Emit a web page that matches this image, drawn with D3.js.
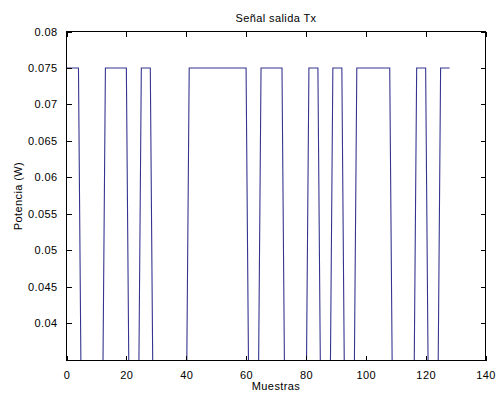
<!DOCTYPE html>
<html>
<head>
<meta charset="utf-8">
<script src="https://cdn.jsdelivr.net/npm/d3@7"></script>
<style>
  html, body { margin: 0; padding: 0; background: #ffffff; }
  svg { display: block; }
  text { font-family: "Liberation Sans", Arial, Helvetica, sans-serif; fill: #000; }
</style>
</head>
<body>
<svg id="chart" width="496" height="394"></svg>
<script>
// Transmitted power per sample (W), samples 0..128
const muestras = d3.range(0, 129);
const potencia = [
  0.075, 0.075, 0.075, 0.075, 0.075, 0.025, 0.025, 0.025, 0.025, 0.025,   // 0-9
  0.025, 0.025, 0.025, 0.075, 0.075, 0.075, 0.075, 0.075, 0.075, 0.075,   // 10-19
  0.075, 0.025, 0.025, 0.025, 0.025, 0.075, 0.075, 0.075, 0.075, 0.025,   // 20-29
  0.025, 0.025, 0.025, 0.025, 0.025, 0.025, 0.025, 0.025, 0.025, 0.025,   // 30-39
  0.025, 0.075, 0.075, 0.075, 0.075, 0.075, 0.075, 0.075, 0.075, 0.075,   // 40-49
  0.075, 0.075, 0.075, 0.075, 0.075, 0.075, 0.075, 0.075, 0.075, 0.075,   // 50-59
  0.075, 0.025, 0.025, 0.025, 0.025, 0.075, 0.075, 0.075, 0.075, 0.075,   // 60-69
  0.075, 0.075, 0.075, 0.025, 0.025, 0.025, 0.025, 0.025, 0.025, 0.025,   // 70-79
  0.025, 0.075, 0.075, 0.075, 0.075, 0.025, 0.025, 0.025, 0.025, 0.075,   // 80-89
  0.075, 0.075, 0.075, 0.025, 0.025, 0.025, 0.025, 0.075, 0.075, 0.075,   // 90-99
  0.075, 0.075, 0.075, 0.075, 0.075, 0.075, 0.075, 0.075, 0.075, 0.025,   // 100-109
  0.025, 0.025, 0.025, 0.025, 0.025, 0.025, 0.025, 0.075, 0.075, 0.075,   // 110-119
  0.075, 0.025, 0.025, 0.025, 0.025, 0.075, 0.075, 0.075, 0.075           // 120-128
];

const xTicks = [0, 20, 40, 60, 80, 100, 120, 140];
const yTicks = [0.04, 0.045, 0.05, 0.055, 0.06, 0.065, 0.07, 0.075, 0.08];
const yTickLabels = ["0.04", "0.045", "0.05", "0.055", "0.06", "0.065", "0.07", "0.075", "0.08"];

const titulo = "Señal salida Tx";
const etiquetaX = "Muestras";
const etiquetaY = "Potencia (W)";

// Plot frame
const plotLeft = 66.5, plotRight = 485.5, plotTop = 31.5, plotBottom = 360.5;
const tickLen = 5;

const svg = d3.select("#chart");

const x = d3.scaleLinear().domain([0, 140]).range([plotLeft, plotRight]);
const y = d3.scaleLinear().domain([0.0349, 0.08]).range([plotBottom, plotTop]);

svg.append("rect").attr("width", 496).attr("height", 394).attr("fill", "#ffffff");

svg.append("defs").append("clipPath").attr("id", "plotClip")
  .append("rect")
  .attr("x", plotLeft).attr("y", plotTop)
  .attr("width", plotRight - plotLeft).attr("height", plotBottom - plotTop);

// Signal line
const line = d3.line()
  .x((d, i) => x(muestras[i]))
  .y(d => y(d));

svg.append("path")
  .datum(potencia)
  .attr("clip-path", "url(#plotClip)")
  .attr("d", line)
  .attr("fill", "none")
  .attr("stroke", "#35358f")
  .attr("stroke-width", 1.1)
  .attr("stroke-linejoin", "miter");

// Axes: bottom / left carry labels, top / right only ticks (boxed axes)
const axFont = 11;

const xBottom = d3.axisBottom(x).tickValues(xTicks).tickSize(-tickLen).tickPadding(tickLen + 6)
  .tickFormat(d3.format("d"));
const xTop = d3.axisTop(x).tickValues(xTicks).tickSize(-tickLen).tickFormat("");
const yLeft = d3.axisLeft(y).tickValues(yTicks).tickSize(-tickLen).tickPadding(tickLen + 4)
  .tickFormat((d, i) => yTickLabels[i]);
const yRight = d3.axisRight(y).tickValues(yTicks).tickSize(-tickLen).tickFormat("");

function style(g) {
  g.select(".domain").remove();
  g.selectAll(".tick line").attr("stroke", "#000").attr("shape-rendering", "crispEdges");
  g.selectAll(".tick text").attr("font-size", axFont).attr("letter-spacing", "0.4px")
    .attr("font-family", "'Liberation Sans', Arial, sans-serif").attr("fill", "#000");
}

svg.append("g").attr("transform", `translate(0,${plotBottom})`).call(xBottom).call(style);
svg.append("g").attr("transform", `translate(0,${plotTop})`).call(xTop).call(style);
svg.append("g").attr("transform", `translate(${plotLeft},0)`).call(yLeft).call(style);
svg.append("g").attr("transform", `translate(${plotRight},0)`).call(yRight).call(style);

// Box
svg.append("rect")
  .attr("x", plotLeft).attr("y", plotTop)
  .attr("width", plotRight - plotLeft).attr("height", plotBottom - plotTop)
  .attr("fill", "none").attr("stroke", "#000").attr("stroke-width", 1)
  .attr("shape-rendering", "crispEdges");

// Title and axis labels
svg.append("text")
  .attr("x", (plotLeft + plotRight) / 2).attr("y", 21.5)
  .attr("text-anchor", "middle").attr("font-size", 11).attr("letter-spacing", "0.4px")
  .text(titulo);

svg.append("text")
  .attr("x", (plotLeft + plotRight) / 2).attr("y", 390)
  .attr("text-anchor", "middle").attr("font-size", 11).attr("letter-spacing", "0.4px")
  .text(etiquetaX);

svg.append("text")
  .attr("transform", `translate(21.5,${(plotTop + plotBottom) / 2}) rotate(-90)`)
  .attr("text-anchor", "middle").attr("font-size", 11).attr("letter-spacing", "0.4px")
  .text(etiquetaY);
</script>
</body>
</html>
